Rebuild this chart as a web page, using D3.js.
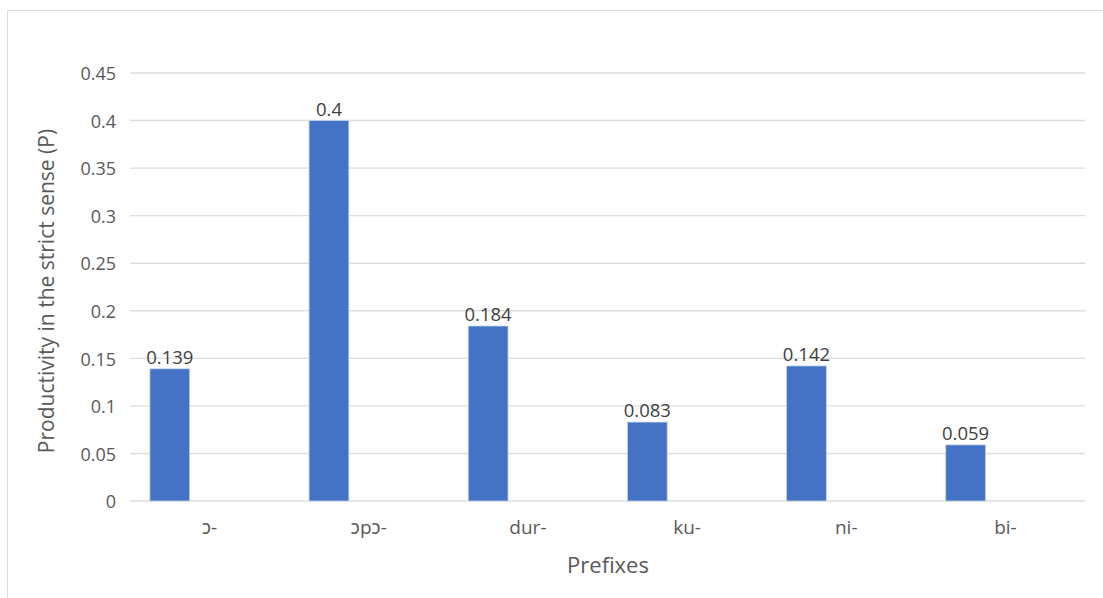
<!DOCTYPE html>
<html>
<head>
<meta charset="utf-8">
<script src="https://cdn.jsdelivr.net/npm/d3@7"></script>
<style>
  html, body { margin: 0; padding: 0; background: #fff; }
  svg { display: block; font-family: "Open Sans", "Noto Sans", sans-serif; }
</style>
</head>
<body>
<svg id="chart" width="1103" height="598"></svg>
<script>
// Productivity (P) of each prefix
const prefixes = ["ɔ-", "ɔpɔ-", "dur-", "ku-", "ni-", "bi-"];
const productivity = [0.139, 0.4, 0.184, 0.083, 0.142, 0.059];
const yTicks = [0, 0.05, 0.1, 0.15, 0.2, 0.25, 0.3, 0.35, 0.4, 0.45];
// the bar occupies the first of three slots in each category group
const seriesSlots = ["P", "slot2", "slot3"];

const svg = d3.select("#chart");
const W = 1103, H = 598;
const plot = { left: 130, right: 1085, top: 73, bottom: 501 };
const FONT = "'Open Sans', 'Noto Sans', sans-serif";

// frame of the chart area
svg.append("path")
  .attr("d", `M7.5,${H} L7.5,10.5 L${W},10.5`)
  .attr("fill", "none")
  .attr("stroke", "#dcdcdc")
  .attr("stroke-width", 1);

const x0 = d3.scaleBand().domain(prefixes).range([plot.left, plot.right]).padding(0);
const bw = x0.bandwidth();
const x1 = d3.scaleBand().domain(seriesSlots).range([bw * 0.125, bw * 0.875]).padding(0);
const y = d3.scaleLinear().domain([0, 0.45]).range([plot.bottom, plot.top]);

// horizontal gridlines
svg.append("g")
  .selectAll("line")
  .data(yTicks)
  .join("line")
  .attr("x1", plot.left)
  .attr("x2", plot.right)
  .attr("y1", d => y(d))
  .attr("y2", d => y(d))
  .attr("stroke", "#dedede")
  .attr("stroke-width", 1.4);

// y axis labels
const yAxis = d3.axisLeft(y).tickValues(yTicks).tickSize(0).tickPadding(0).tickFormat(d => String(d));
const gy = svg.append("g").attr("transform", `translate(${plot.left - 14},1)`).call(yAxis);
gy.select(".domain").remove();
gy.selectAll("text")
  .attr("fill", "#595959")
  .style("font-size", "18px")
  .style("font-family", FONT);

// x axis labels
const xAxis = d3.axisBottom(x0).tickSize(0).tickPadding(0);
const gx = svg.append("g").attr("transform", `translate(0,${plot.bottom + 33})`).call(xAxis);
gx.select(".domain").remove();
gx.selectAll("text")
  .attr("fill", "#595959")
  .attr("dy", "0")
  .style("font-size", "19px")
  .style("font-family", FONT);

// bars
const rows = prefixes.map((p, i) => ({ p, v: productivity[i] }));
svg.append("g")
  .selectAll("rect")
  .data(rows)
  .join("rect")
  .attr("x", d => x0(d.p) + x1("P"))
  .attr("y", d => y(d.v))
  .attr("width", x1.bandwidth())
  .attr("height", d => y(0) - y(d.v))
  .attr("fill", "#4472c4")
  .attr("stroke", "#c5d4ee")
  .attr("stroke-width", 0.8);

// value labels
svg.append("g")
  .selectAll("text")
  .data(rows)
  .join("text")
  .attr("x", d => x0(d.p) + x1("P") + x1.bandwidth() / 2)
  .attr("y", d => y(d.v) - 5)
  .attr("text-anchor", "middle")
  .attr("fill", "#404040")
  .style("font-size", "18.5px")
  .text(d => String(d.v));

// axis titles
svg.append("text")
  .attr("transform", `translate(54,${(plot.top + plot.bottom) / 2 + 4}) rotate(-90)`)
  .attr("text-anchor", "middle")
  .attr("fill", "#595959")
  .style("font-size", "21px")
  .text("Productivity in the strict sense (P)");

svg.append("text")
  .attr("x", 608)
  .attr("y", 573)
  .attr("text-anchor", "middle")
  .attr("fill", "#595959")
  .style("font-size", "22px")
  .text("Prefixes");
</script>
</body>
</html>
